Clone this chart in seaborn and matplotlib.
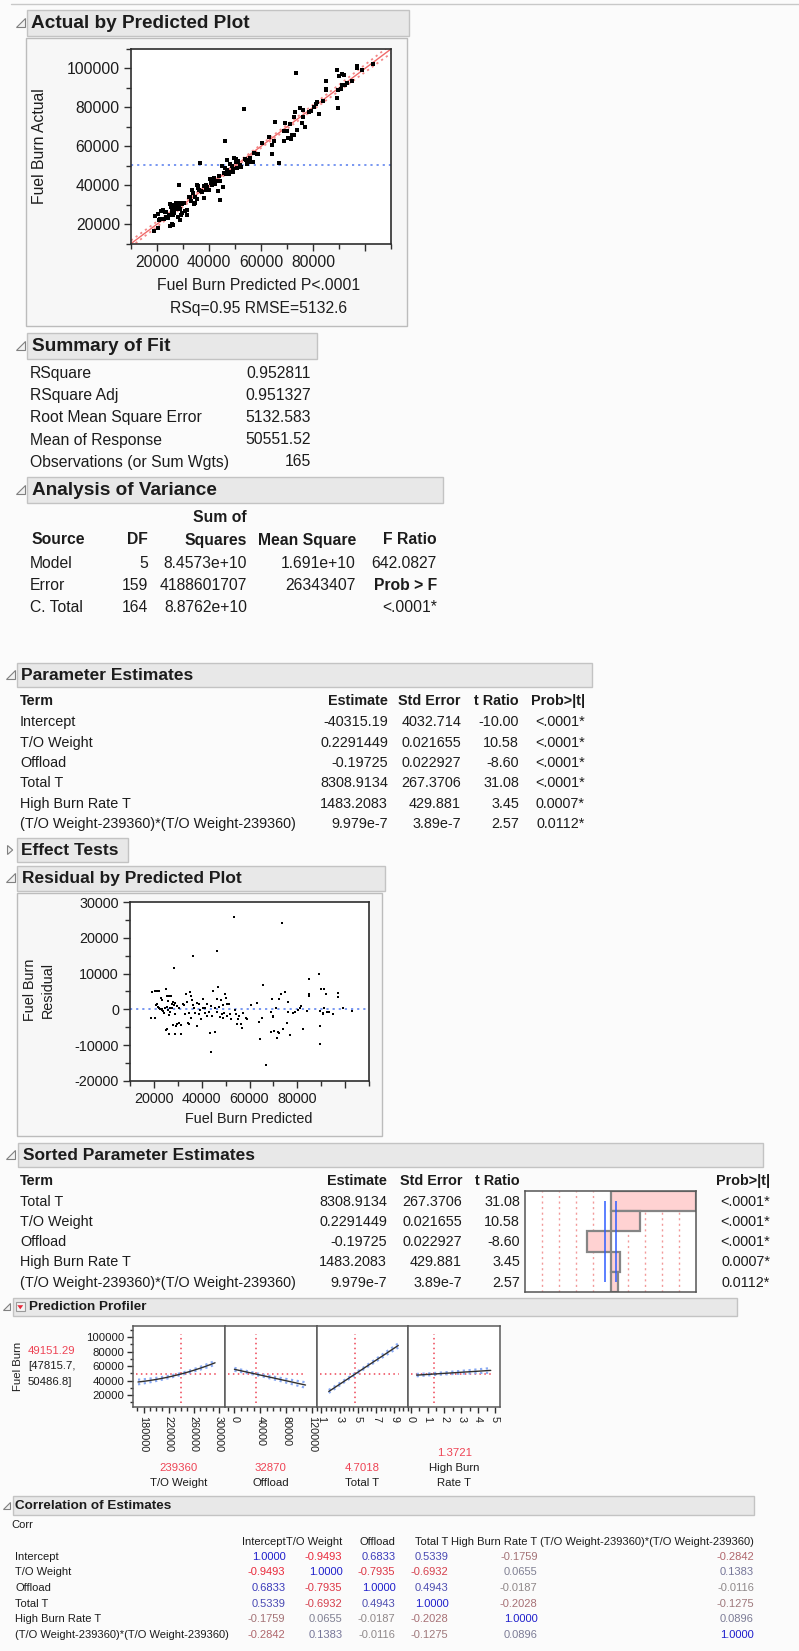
import numpy as np
import pandas as pd
import matplotlib
matplotlib.use("Agg")
import matplotlib.pyplot as plt
from matplotlib.patches import Rectangle, Polygon
from matplotlib.ticker import FixedLocator, MultipleLocator, FuncFormatter, NullLocator
import seaborn as sns

# ---------------------------------------------------------------- data
# Fuel Burn Predicted and residuals for the 165 observations (thousands)
pred_k = [18.8, 20.3, 19.2, 20.3, 21.4, 22.3, 20.7, 21.2, 21.6, 22.1,
          22.7, 23.3, 23.5, 23.0, 23.9, 24.1, 24.9, 24.9, 25.6, 26.3,
          25.3, 26.2, 27.2, 25.9, 25.6, 26.0, 26.3, 26.7, 27.4, 27.7,
          28.1, 28.4, 27.9, 28.8, 28.6, 29.0, 29.5, 29.3, 29.8, 30.4,
          31.5, 31.5, 32.3, 32.7, 33.0, 33.6, 33.9, 34.4, 34.7, 35.2,
          35.7, 35.4, 35.9, 36.4, 36.2, 36.8, 37.3, 38.0, 37.9, 38.7,
          39.3, 39.9, 40.4, 40.7, 41.2, 42.1, 42.4, 43.2, 43.5, 43.8,
          44.1, 44.3, 44.9, 45.4, 45.7, 46.3, 46.3, 46.5, 47.0, 47.1,
          47.7, 48.1, 48.4, 48.8, 49.1, 49.8, 50.2, 50.5, 50.7, 51.3,
          51.9, 52.3, 53.5, 53.9, 54.4, 54.8, 55.3, 55.8, 56.3, 56.9,
          57.4, 58.5, 59.0, 60.5, 63.0, 64.1, 64.4, 65.1, 65.5, 66.9,
          68.9, 69.3, 69.7, 70.0, 68.9, 70.3, 71.0, 71.4, 72.0, 72.5,
          72.5, 73.2, 73.5, 74.0, 74.9, 75.6, 76.0, 76.3, 77.0, 78.4,
          79.1, 80.2, 81.1, 81.7, 82.3, 83.9, 84.9, 85.1, 85.1, 89.2,
          89.4, 89.5, 90.1, 91.2, 90.6, 90.9, 91.3, 92.0, 92.3, 93.1,
          95.1, 96.9, 96.9, 99.0, 103.0, 23.4, 24.5, 26.7, 29.0, 30.6,
          34.8, 39.0, 41.5, 49.3, 89.5]
resid_k = [-2.5, -2.5, 4.9, 5.1, 5.1, 5.2, 1.2, 1.5, 0.8, 0.4,
           0.0, -0.3, 0.1, 3.2, -0.5, -1.0, 5.6, -5.8, -5.6, -6.9,
           3.7, 3.7, 3.8, 2.3, 0.7, -0.3, -1.6, -0.8, 0.4, 1.5,
           2.2, 11.5, -4.4, -6.9, 1.1, 1.8, 0.9, -4.7, -4.0, 0.4,
           -6.9, -4.4, 1.5, 1.2, -1.3, 4.2, 2.1, -3.8, -0.9, 4.8,
           3.7, -2.4, 2.6, 14.9, 1.2, 0.4, -1.0, -4.5, 1.8, 1.4,
           -0.2, -2.6, 2.8, 0.4, -1.0, 1.5, -1.9, -0.8, -6.6, 0.9,
           -11.9, -1.9, 5.2, -6.4, 0.5, 16.3, 2.8, -0.8, 6.2, 0.7,
           -2.1, 2.6, -1.4, 1.2, -2.4, 4.2, 3.1, 1.6, -1.9, 1.4,
           -1.4, -2.7, 25.9, -0.2, -1.4, -4.0, -2.7, -1.9, -4.2, -5.2,
           -1.0, -2.4, -2.7, 1.1, 1.8, -3.5, -8.3, -2.4, 6.9, -15.5,
           -0.8, 2.9, -1.9, -2.1, -6.3, -6.1, 0.4, -7.9, -6.4, -6.6,
           2.8, 4.2, 24.2, -5.6, 4.8, -3.8, -0.8, 2.2, -7.2, -1.0,
           -0.8, -0.2, 0.4, 0.9, -5.6, -0.5, 8.4, 4.3, 3.8, 9.8,
           -4.5, -9.8, 5.8, 5.8, -1.0, -1.4, 0.4, 4.4, -0.8, -0.8,
           -1.4, 4.6, 3.5, 0.4, -0.5, 2.6, 0.4, 0.4, -1.3, -3.8,
           -4.0, -1.3, 0.4, -1.0, -0.5]

# Summary of Fit
fit_labels = ["RSquare", "RSquare Adj", "Root Mean Square Error",
              "Mean of Response", "Observations (or Sum Wgts)"]
fit_values = ["0.952811", "0.951327", "5132.583", "50551.52", "165"]
rmse = 5132.583
mean_response = 50551.52
n_obs = 165
rsq_text = "RSq=0.95 RMSE=5132.6"

# Analysis of Variance
anova_source = ["Model", "Error", "C. Total"]
anova_df = ["5", "159", "164"]
anova_ss = ["8.4573e+10", "4188601707", "8.8762e+10"]
anova_ms = ["1.691e+10", "26343407", ""]
anova_f = ["642.0827", "Prob > F", "<.0001*"]
ss_model = 8.4573e10
t_crit = 1.975

# Parameter Estimates
terms = ["Intercept", "T/O Weight", "Offload", "Total T", "High Burn Rate T",
         "(T/O Weight-239360)*(T/O Weight-239360)"]
estimates = [-40315.19, 0.2291449, -0.19725, 8308.9134, 1483.2083, 9.979e-7]
est_text = ["-40315.19", "0.2291449", "-0.19725", "8308.9134", "1483.2083", "9.979e-7"]
std_err = [4032.714, 0.021655, 0.022927, 267.3706, 429.881, 3.89e-7]
se_text = ["4032.714", "0.021655", "0.022927", "267.3706", "429.881", "3.89e-7"]
t_ratio = [-10.00, 10.58, -8.60, 31.08, 3.45, 2.57]
prob_text = ["<.0001*", "<.0001*", "<.0001*", "<.0001*", "0.0007*", "0.0112*"]
quad_center = 239360

# Prediction Profiler
factor_names = ["T/O Weight", "Offload", "Total T", "High Burn\nRate T"]
factor_current = [239360, 32870, 4.7018, 1.3721]
factor_current_text = ["239360", "32870", "4.7018", "1.3721"]
factor_range = [(171000, 294000), (0, 110000), (1.8, 9.45), (0.35, 4.75)]
factor_xlim = [(163000, 309500), (-15000, 127000), (0.45, 10.55), (-0.15, 5.3)]
factor_ticks = [[180000, 220000, 260000, 300000], [0, 40000, 80000, 120000],
                [1, 3, 5, 7, 9], [0, 1, 2, 3, 4, 5]]
factor_minor = [10000, 10000, 0.5, 0.5]
profile_pred_text = "49151.29"
profile_ci = (47815.7, 50486.8)
profile_ci_text = ["[47815.7,", "50486.8]"]

# Correlation of Estimates
corr = [[1.0000, -0.9493, 0.6833, 0.5339, -0.1759, -0.2842],
        [-0.9493, 1.0000, -0.7935, -0.6932, 0.0655, 0.1383],
        [0.6833, -0.7935, 1.0000, 0.4943, -0.0187, -0.0116],
        [0.5339, -0.6932, 0.4943, 1.0000, -0.2028, -0.1275],
        [-0.1759, 0.0655, -0.0187, -0.2028, 1.0000, 0.0896],
        [-0.2842, 0.1383, -0.0116, -0.1275, 0.0896, 1.0000]]

# ---------------------------------------------------------------- setup
sns.set_style("white")
plt.rcParams['font.family'] = ['Liberation Sans', 'DejaVu Sans']
plt.rcParams['axes.unicode_minus'] = False

W, H = 799, 1651
BG = '#fbfbfb'
TXT = '#1c1c1c'
RED = '#ee4455'
AX = '#2e2e2e'

fig = plt.figure(figsize=(W / 100, H / 100), dpi=100, facecolor=BG)
bg = fig.add_axes([0, 0, 1, 1])
bg.set_xlim(0, W)
bg.set_ylim(H, 0)
bg.axis('off')


def axes_px(x0, y0, x1, y1):
    return fig.add_axes([x0 / W, 1 - y1 / H, (x1 - x0) / W, (y1 - y0) / H])


def text(x, y, s, size, ha='left', weight='normal', color=TXT, **kw):
    bg.text(x, y, s, fontsize=size, ha=ha, va='center', fontweight=weight,
            color=color, **kw)


def disclosure(cx, cy, r, opened=True):
    if opened:
        pts = [(cx - r, cy + r), (cx + r, cy + r), (cx + r, cy - r)]
    else:
        pts = [(cx - r * 0.55, cy - r), (cx - r * 0.55, cy + r), (cx + r * 0.6, cy)]
    bg.add_patch(Polygon(pts, closed=True, facecolor='#f2f2f2',
                         edgecolor='#808080', lw=0.8, zorder=3))


def header(box, title, size, tri, tx, r=4.5, opened=True):
    x0, y0, x1, y1 = box
    bg.add_patch(Rectangle((x0, y0), x1 - x0, y1 - y0, facecolor='#e8e8e8',
                           edgecolor='#c3c3c3', lw=1.0))
    disclosure(tri[0], tri[1], r, opened)
    text(tx, (y0 + y1) / 2 + 0.5, title, size, weight='bold')


def frame(x0, y0, x1, y1):
    bg.add_patch(Rectangle((x0, y0), x1 - x0, y1 - y0, facecolor='#f7f7f7',
                           edgecolor='#bcbcbc', lw=1.0))


def style_axes(ax, lw=1.2, color=AX):
    ax.set_facecolor('white')
    for sp in ax.spines.values():
        sp.set_visible(True)
        sp.set_color(color)
        sp.set_linewidth(lw)


int_fmt = FuncFormatter(lambda v, p: f"{v:.0f}")

pred = np.array(pred_k) * 1000
resid = np.array(resid_k) * 1000
actual = pred + resid
df = pd.DataFrame({"pred": pred, "resid": resid, "actual": actual})

# top rule
bg.plot([11, W], [4.5, 4.5], color='#c8c8c8', lw=1)

# ---------------------------------------------------------------- Actual by Predicted
header((27, 10, 409, 36), "Actual by Predicted Plot", 13.7, (20, 23), 31)
frame(26, 38, 407, 326)
ax1 = axes_px(131, 49, 391, 244)
style_axes(ax1)
ax1.axhline(mean_response, color='#6d8ff0', lw=1.3, ls=(0, (1.2, 2.2)), zorder=1)
ax1.axline((0, 0), slope=1, color='#f06a6a', lw=1.0, zorder=2)
xs = np.linspace(10000, 110000, 200)
band = t_crit * rmse * np.sqrt(1 / n_obs + (xs - mean_response) ** 2 / ss_model)
ax1.plot(xs, xs + band, color='#f28888', lw=1.3, ls=(0, (1.2, 2.0)), zorder=2)
ax1.plot(xs, xs - band, color='#f28888', lw=1.3, ls=(0, (1.2, 2.0)), zorder=2)
sns.scatterplot(data=df, x="pred", y="actual", ax=ax1, marker='s', s=5.5,
                color='black', linewidth=0, zorder=3)
ax1.set_xlim(10000, 110000)
ax1.set_ylim(9800, 110000)
ax1.xaxis.set_major_locator(FixedLocator([20000, 40000, 60000, 80000, 100000]))
ax1.xaxis.set_major_formatter(FuncFormatter(lambda v, p: "" if v > 90000 else f"{v:.0f}"))
ax1.xaxis.set_minor_locator(MultipleLocator(10000))
ax1.yaxis.set_major_locator(FixedLocator([20000, 40000, 60000, 80000, 100000]))
ax1.yaxis.set_major_formatter(int_fmt)
ax1.yaxis.set_minor_locator(MultipleLocator(10000))
ax1.tick_params(which='major', direction='out', length=5, width=1, color=AX,
                labelsize=11.3, labelcolor=TXT, pad=3, bottom=True, left=True)
ax1.tick_params(which='minor', direction='out', length=3.5, width=1, color=AX,
                bottom=True, left=True)
ax1.set_xlabel("")
ax1.set_ylabel("")
text(39, 146, "Fuel Burn Actual", 11.3, ha='center', rotation=90)
text(259, 286, "Fuel Burn Predicted P<.0001", 11.3, ha='center')
text(259, 308, rsq_text, 11.3, ha='center')

# ---------------------------------------------------------------- Summary of Fit
header((27, 333, 317, 359), "Summary of Fit", 13.7, (20, 346), 32)
fit_y = [373.5, 395.7, 417.8, 440, 462]
for lab, val, y in zip(fit_labels, fit_values, fit_y):
    text(30, y, lab, 11.3)
    text(311, y, val, 11.3, ha='right')

# ---------------------------------------------------------------- Analysis of Variance
header((27, 477, 443, 503), "Analysis of Variance", 13.7, (20, 490), 32)
text(220, 518, "Sum of", 11.3, ha='center', weight='bold')
text(31, 540, "Source", 11.3, weight='bold')
for s, x in zip(["DF", "Squares", "Mean Square", "F Ratio"], [148, 247, 356, 437]):
    text(x, 540, s, 11.3, ha='right', weight='bold')
for i, y in enumerate([563, 585.5, 608]):
    text(30, y, anova_source[i], 11.3)
    text(148, y, anova_df[i], 11.3, ha='right')
    text(247, y, anova_ss[i], 11.3, ha='right')
    text(356, y, anova_ms[i], 11.3, ha='right')
    text(437, y, anova_f[i], 11.3, ha='right',
         weight='bold' if anova_f[i] == "Prob > F" else 'normal')

# ---------------------------------------------------------------- Parameter Estimates
header((17, 663, 592, 687), "Parameter Estimates", 12.5, (10.5, 675), 21)
cols_pe = [388, 461, 519, 585]
text(20, 701, "Term", 10.4, weight='bold')
for s, x in zip(["Estimate", "Std Error", "t Ratio", "Prob>|t|"], cols_pe):
    text(x, 701, s, 10.4, ha='right', weight='bold')
for i in range(len(terms)):
    y = 722.3 + i * 20.35
    text(20, y, terms[i], 10.4)
    text(cols_pe[0], y, est_text[i], 10.4, ha='right')
    text(cols_pe[1], y, se_text[i], 10.4, ha='right')
    text(cols_pe[2], y, f"{t_ratio[i]:.2f}", 10.4, ha='right')
    text(cols_pe[3], y, prob_text[i], 10.4, ha='right')

# ---------------------------------------------------------------- Effect Tests
header((17, 838, 128, 862), "Effect Tests", 12.5, (10, 850), 21, opened=False)

# ---------------------------------------------------------------- Residual by Predicted
header((17, 866, 385, 891), "Residual by Predicted Plot", 12.5, (10.5, 878), 22)
frame(17, 893, 382, 1136)
ax2 = axes_px(130, 902, 369, 1081)
style_axes(ax2)
ax2.axhline(0, color='#6d8ff0', lw=1.3, ls=(0, (1.2, 2.2)), zorder=1)
sns.scatterplot(data=df, x="pred", y="resid", ax=ax2, marker='s', s=4.2,
                color='black', linewidth=0, zorder=3)
ax2.set_xlim(10000, 110000)
ax2.set_ylim(-20000, 30000)
ax2.xaxis.set_major_locator(FixedLocator([20000, 40000, 60000, 80000, 100000]))
ax2.xaxis.set_major_formatter(FuncFormatter(lambda v, p: "" if v > 90000 else f"{v:.0f}"))
ax2.xaxis.set_minor_locator(MultipleLocator(10000))
ax2.yaxis.set_major_locator(MultipleLocator(10000))
ax2.yaxis.set_major_formatter(int_fmt)
ax2.yaxis.set_minor_locator(MultipleLocator(5000))
ax2.tick_params(which='major', direction='out', length=5, width=1, color=AX,
                labelsize=10.4, labelcolor=TXT, pad=3, bottom=True, left=True)
ax2.tick_params(which='minor', direction='out', length=3.5, width=1, color=AX,
                bottom=True, left=True)
ax2.set_xlabel("")
ax2.set_ylabel("")
text(39, 990, "Fuel Burn\nResidual", 10.4, ha='center', rotation=90, linespacing=1.35)
text(249, 1119, "Fuel Burn Predicted", 10.4, ha='center')

# ---------------------------------------------------------------- Sorted Parameter Estimates
header((18, 1143, 763, 1167), "Sorted Parameter Estimates", 12.5, (10, 1155), 23)
order = sorted(range(1, len(terms)), key=lambda k: -abs(t_ratio[k]))
cols_se = [387, 462, 520]
text(20, 1181, "Term", 10.4, weight='bold')
for s, x in zip(["Estimate", "Std Error", "t Ratio"], cols_se):
    text(x, 1181, s, 10.4, ha='right', weight='bold')
text(770, 1181, "Prob>|t|", 10.4, ha='right', weight='bold')
for r, k in enumerate(order):
    y = 1201.7 + r * 20.25
    text(20, y, terms[k], 10.4)
    text(cols_se[0], y, est_text[k], 10.4, ha='right')
    text(cols_se[1], y, se_text[k], 10.4, ha='right')
    text(cols_se[2], y, f"{t_ratio[k]:.2f}", 10.4, ha='right')
    text(770, y, prob_text[k], 10.4, ha='right')

sorted_df = pd.DataFrame({"term": [terms[k] for k in order],
                          "t": [t_ratio[k] for k in order]})
axb = axes_px(525, 1191, 696, 1292)
style_axes(axb, lw=1.1, color='#555555')
tmax = max(abs(v) for v in sorted_df["t"])
for frac in [0.2, 0.4, 0.6, 0.8]:
    for sgn in (-1, 1):
        axb.axvline(sgn * frac * tmax, color='#f29a9a', lw=1.0, ls=(0, (1.5, 2.5)), zorder=0)
sns.barplot(data=sorted_df, x="t", y="term", orient='h', ax=axb, color='#ffd2d2',
            saturation=1, width=1.0, edgecolor='#858585', linewidth=1.6, zorder=2)
axb.vlines([-t_crit, t_crit], 0, len(order) - 1, color='#2f5cff', lw=1.1, zorder=3)
axb.set_xlim(-tmax, tmax)
axb.set_ylim(len(order) - 0.5, -0.5)
axb.set_xticks([])
axb.set_yticks([])
axb.set_xlabel("")
axb.set_ylabel("")

# ---------------------------------------------------------------- Prediction Profiler
header((13, 1298, 737, 1316), "Prediction Profiler", 9.7, (6.5, 1307), 29, r=3.5)
bg.add_patch(Rectangle((15.5, 1302.5), 9.5, 9, facecolor='#f3f3f3',
                       edgecolor='#9a9a9a', lw=0.8, zorder=3))
bg.add_patch(Polygon([(17.3, 1305.2), (23.2, 1305.2), (20.25, 1309.3)], closed=True,
                     facecolor='#e8283a', edgecolor='none', zorder=4))


def predict(vals):
    tow, off, tt, hb = vals
    return (estimates[0] + estimates[1] * tow + estimates[2] * off +
            estimates[3] * tt + estimates[4] * hb +
            estimates[5] * (tow - quad_center) ** 2)


ci_half = (profile_ci[1] - profile_ci[0]) / 2
y_now = predict(factor_current)
panel_edges = np.linspace(133, 500, 5)
for j in range(4):
    ax = axes_px(panel_edges[j], 1326, panel_edges[j + 1], 1406.7)
    style_axes(ax, lw=1.1, color='#5a5a5a')
    lo, hi = factor_range[j]
    xl0, xl1 = factor_xlim[j]
    xs = np.linspace(lo, hi, 80)
    vals = [np.full_like(xs, v, dtype=float) for v in factor_current]
    vals[j] = xs
    ys = predict(vals)
    half = np.sqrt(ci_half ** 2 + (t_crit * std_err[j + 1] * (xs - factor_current[j])) ** 2)
    prof = pd.DataFrame({"x": xs, "y": ys})
    ax.plot(xs, ys + half, color='#8aaaf4', lw=1.6, ls=(0, (1, 1.6)), zorder=2)
    ax.plot(xs, ys - half, color='#8aaaf4', lw=1.6, ls=(0, (1, 1.6)), zorder=2)
    sns.lineplot(data=prof, x="x", y="y", ax=ax, color='#303030', lw=1.0, zorder=3)
    span = xl1 - xl0
    ax.axhline(y_now, xmin=0.035, xmax=min((hi - xl0) / span + 0.01, 0.985), color=RED,
               lw=1.1, ls=(0, (1, 2.2)), zorder=1)
    ax.axvline(factor_current[j], ymin=0.05, ymax=0.9, color=RED, lw=1.1,
               ls=(0, (1, 2.2)), zorder=1)
    ax.set_xlim(xl0, xl1)
    ax.set_ylim(4000, 115500)
    ax.set_xticks(factor_ticks[j])
    ax.set_xticklabels([f"{v:g}" for v in factor_ticks[j]], rotation=-90,
                       fontsize=7.8, color=TXT)
    ax.xaxis.set_minor_locator(MultipleLocator(factor_minor[j]))
    ax.tick_params(axis='x', which='major', direction='out', length=4, width=1,
                   color=AX, pad=3, bottom=True)
    ax.tick_params(axis='x', which='minor', direction='out', length=3, width=1,
                   color=AX, bottom=True)
    if j == 0:
        ax.yaxis.set_major_locator(FixedLocator([20000, 40000, 60000, 80000, 100000]))
        ax.yaxis.set_major_formatter(int_fmt)
        ax.yaxis.set_minor_locator(MultipleLocator(10000))
        ax.tick_params(axis='y', which='major', direction='out', length=4, width=1,
                       color=AX, labelsize=8.2, labelcolor=TXT, pad=2, left=True)
        ax.tick_params(axis='y', which='minor', direction='out', length=2.5, width=1,
                       color=AX, left=True)
    else:
        ax.yaxis.set_major_locator(NullLocator())
        ax.yaxis.set_minor_locator(NullLocator())
    ax.set_xlabel("")
    ax.set_ylabel("")
    cx = (panel_edges[j] + panel_edges[j + 1]) / 2
    if "\n" in factor_names[j]:
        text(cx, 1452.7, factor_current_text[j], 8.2, ha='center', color=RED)
        a, b = factor_names[j].split("\n")
        text(cx, 1468.3, a, 8.2, ha='center')
        text(cx, 1483.3, b, 8.2, ha='center')
    else:
        text(cx, 1468.3, factor_current_text[j], 8.2, ha='center', color=RED)
        text(cx, 1483.3, factor_names[j], 8.2, ha='center')

text(18, 1366, "Fuel Burn", 8.2, ha='center', rotation=90)
text(28, 1351, profile_pred_text, 8.2, color=RED)
text(28, 1366, profile_ci_text[0], 8.2)
text(28, 1381.7, profile_ci_text[1], 8.2)

# ---------------------------------------------------------------- Correlation of Estimates
header((13, 1496, 754, 1515), "Correlation of Estimates", 9.7, (6.8, 1505.7), 15.3, r=3.5)
text(11, 1525, "Corr", 8)
corr_cols = [285.4, 342.4, 395.4, 448.4, 537.6, 754]
for name, x in zip(terms, corr_cols):
    text(x, 1541.7, name, 8, ha='right')

gray = np.array([0.55, 0.55, 0.55])
blue = np.array([0.12, 0.12, 0.80])
red = np.array([0.93, 0.15, 0.22])


def corr_color(v):
    a = min(abs(v), 1.0) ** 0.8
    tgt = blue if v > 0 else red
    return tuple(gray * (1 - a) + tgt * a)


corr_rows = [1556.7, 1572.3, 1588.3, 1603.7, 1619, 1635]
for i, y in enumerate(corr_rows):
    text(15.3, y, terms[i], 8)
    for k, x in enumerate(corr_cols):
        text(x, y, f"{corr[i][k]:.4f}", 8, ha='right', color=corr_color(corr[i][k]))

fig.savefig("out.png", dpi=100, facecolor=BG)
